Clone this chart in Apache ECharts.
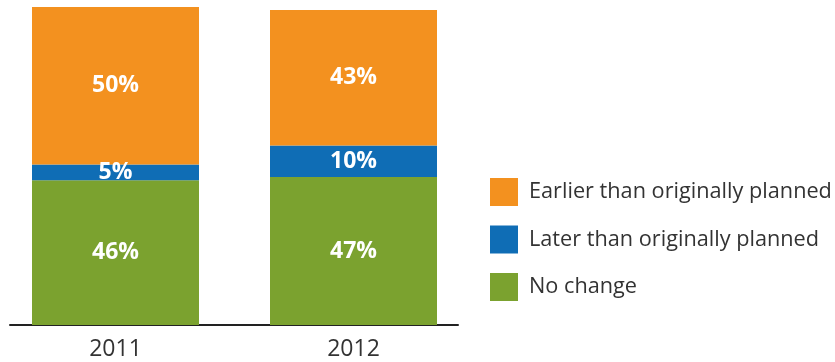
<!DOCTYPE html>
<html>
<head>
<meta charset="utf-8">
<script src="https://cdn.jsdelivr.net/npm/echarts@6/dist/echarts.min.js"></script>
<style>
  html, body { margin: 0; padding: 0; background: #fff; }
  #chart { width: 835px; height: 362px; }
</style>
</head>
<body>
<div id="chart"></div>
<script>
// Timing of planned changes, share of respondents per survey year
const years = ['2011', '2012'];
const noChange = [46, 47];
const laterThanPlanned = [5, 10];
const earlierThanPlanned = [50, 43];

const seriesNames = ['Earlier than originally planned', 'Later than originally planned', 'No change'];
const colors = { earlier: '#F3911F', later: '#0F6DB5', none: '#7BA22F' };

const FONT = '"Open Sans", "Noto Sans", sans-serif';

const chart = echarts.init(document.getElementById('chart'), null, { renderer: 'canvas' });

function barSeries(name, data, color) {
  return {
    name: name,
    type: 'bar',
    stack: 'total',
    xAxisIndex: 0,
    yAxisIndex: 0,
    barWidth: 167,
    data: data,
    itemStyle: { color: color },
    label: {
      show: true,
      position: 'inside',
      formatter: '{c}%',
      color: '#fff',
      fontFamily: FONT,
      fontWeight: 'bold',
      fontSize: 23
    },
    emphasis: { disabled: true }
  };
}

chart.setOption({
  animation: false,
  color: [colors.earlier, colors.later, colors.none],
  legend: {
    orient: 'vertical',
    left: 490,
    top: 178,
    padding: 0,
    itemWidth: 28,
    itemHeight: 28,
    itemGap: 19.5,
    icon: 'rect',
    data: seriesNames,
    selectedMode: false,
    textStyle: {
      fontFamily: FONT,
      fontSize: 21.7,
      color: '#333',
      padding: [0, 0, 0, 6]
    }
  },
  grid: [
    { left: -3.5, width: 476, top: 0, bottom: 37, outerBoundsMode: 'none', containLabel: false },
    { left: 10, width: 448, top: 0, bottom: 37, outerBoundsMode: 'none', containLabel: false }
  ],
  xAxis: [
    {
      type: 'category',
      gridIndex: 0,
      data: years,
      axisLine: { show: false },
      axisTick: { show: false },
      axisLabel: { fontFamily: FONT, fontSize: 23, color: '#333', margin: 13 }
    },
    {
      type: 'category',
      gridIndex: 1,
      data: [''],
      axisLine: { show: true, lineStyle: { color: '#222', width: 2 } },
      axisTick: { show: false },
      axisLabel: { show: false }
    }
  ],
  yAxis: [
    { type: 'value', gridIndex: 0, min: 0, max: 103.2, show: false },
    { type: 'value', gridIndex: 1, min: 0, max: 103.2, show: false }
  ],
  series: [
    barSeries('No change', noChange, colors.none),
    barSeries('Later than originally planned', laterThanPlanned, colors.later),
    barSeries('Earlier than originally planned', earlierThanPlanned, colors.earlier)
  ]
});
</script>
</body>
</html>
